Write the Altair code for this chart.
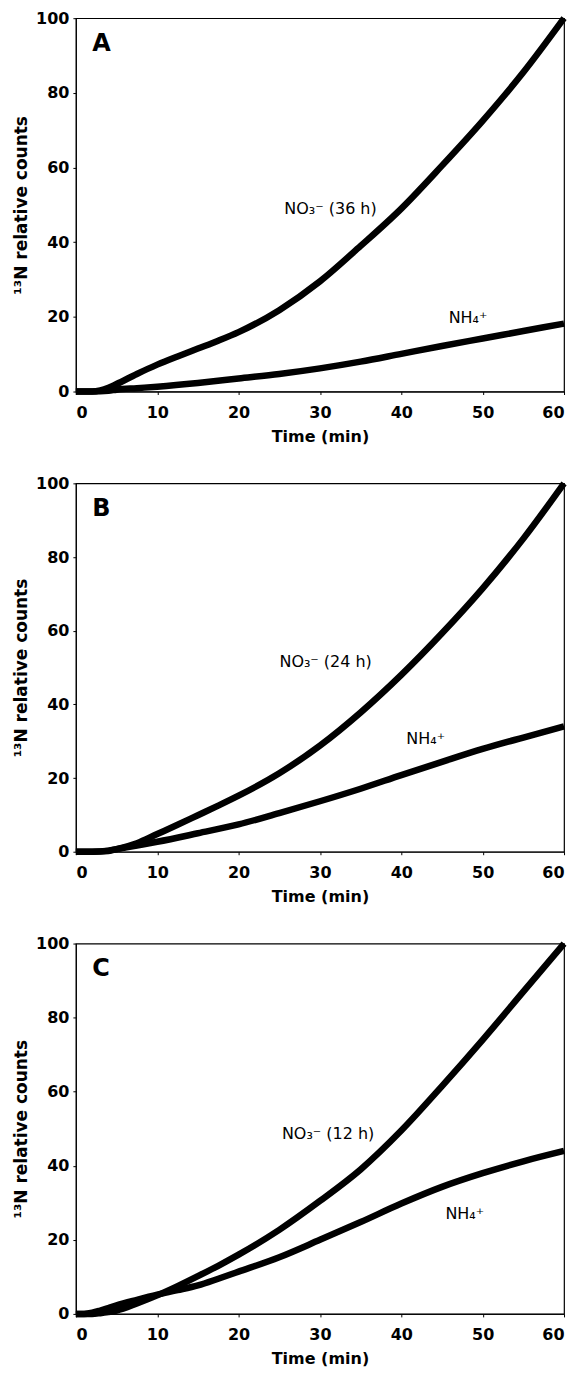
import altair as alt
import pandas as pd

# ---- data ----
t_A_no3 = [0, 1, 2, 3, 4, 5, 7.5, 10, 12.5, 15, 17.5, 20, 25, 30, 35, 40, 45, 50, 55, 60]
v_A_no3 = [0, 0, 0, 0.3, 1.0, 2.0, 4.7, 7.2, 9.4, 11.5, 13.6, 15.9, 21.8, 29.5, 39.0, 49.0, 60.5, 72.5, 85.5, 100]
t_A_nh4 = [0, 2, 4, 5, 7.5, 10, 15, 20, 25, 30, 35, 40, 45, 50, 55, 60]
v_A_nh4 = [0, 0, 0.2, 0.5, 0.9, 1.3, 2.3, 3.5, 4.7, 6.2, 8.0, 10.1, 12.2, 14.2, 16.2, 18.2]

t_B_no3 = [0, 2, 4, 5, 7.5, 10, 12.5, 15, 17.5, 20, 25, 30, 35, 40, 45, 50, 55, 60]
v_B_no3 = [0, 0, 0.2, 0.7, 2.3, 4.8, 7.3, 9.9, 12.5, 15.2, 21.3, 28.8, 37.8, 48.0, 59.3, 71.5, 85.0, 100]
t_B_nh4 = [0, 2, 4, 5, 7.5, 10, 15, 20, 25, 30, 35, 40, 45, 50, 55, 60]
v_B_nh4 = [0, 0, 0.3, 0.7, 1.7, 2.7, 5.0, 7.4, 10.5, 13.7, 17.1, 20.8, 24.4, 27.9, 31.0, 34.0]

t_C_no3 = [0, 1, 2, 3, 4, 5, 7.5, 10, 12.5, 15, 17.5, 20, 25, 30, 35, 40, 45, 50, 55, 60]
v_C_no3 = [0, 0, 0, 0.2, 0.5, 0.9, 2.8, 5.0, 7.5, 10.2, 13.0, 16.0, 22.7, 30.5, 39.0, 49.5, 61.5, 74.0, 87.0, 100]
t_C_nh4 = [0, 1, 2, 3, 4, 5, 7.5, 10, 12.5, 15, 17.5, 20, 25, 30, 35, 40, 45, 50, 55, 60]
v_C_nh4 = [0, 0, 0.3, 0.9, 1.6, 2.3, 3.8, 5.2, 6.4, 7.7, 9.5, 11.4, 15.3, 20.0, 24.8, 29.8, 34.3, 38.0, 41.2, 44.0]

panel_letters = ["A", "B", "C"]
no3_labels = ["NO\u2083\u207b (36 h)", "NO\u2083\u207b (24 h)", "NO\u2083\u207b (12 h)"]
nh4_label = "NH\u2084\u207a"
no3_label_pos = [(31.3, 49.0), (30.7, 51.6), (31.0, 48.5)]
nh4_label_pos = [(48.2, 19.7), (43.0, 30.5), (47.8, 27.0)]
letter_pos = (2.0, 93.0)

x_ticks = [0, 10, 20, 30, 40, 50, 60]
y_ticks = [0, 20, 40, 60, 80, 100]

series = {
    "A": [(t_A_no3, v_A_no3, "NO3"), (t_A_nh4, v_A_nh4, "NH4")],
    "B": [(t_B_no3, v_B_no3, "NO3"), (t_B_nh4, v_B_nh4, "NH4")],
    "C": [(t_C_no3, v_C_no3, "NO3"), (t_C_nh4, v_C_nh4, "NH4")],
}

FONT = "DejaVu Sans"
heights = [374, 369, 371]
PANEL_W = 489


def panel(i, letter):
    rows = []
    for t, v, s in series[letter]:
        for a, b in zip(t, v):
            rows.append({"t": a, "v": b, "s": s})
    df = pd.DataFrame(rows)
    xs = alt.Scale(domain=[0, 60], nice=False)
    ys = alt.Scale(domain=[0, 100], nice=False)
    xax = alt.Axis(values=x_ticks, title="Time (min)", grid=False)
    yax = alt.Axis(values=y_ticks, title="\u00b9\u00b3N relative counts", grid=False)
    lines = alt.Chart(df).mark_line(color="black", strokeWidth=6.5, interpolate="monotone").encode(
        x=alt.X("t:Q", scale=xs, axis=xax),
        y=alt.Y("v:Q", scale=ys, axis=yax),
        detail="s:N",
    )
    lab = pd.DataFrame([
        {"x": no3_label_pos[i][0], "y": no3_label_pos[i][1], "txt": no3_labels[i]},
        {"x": nh4_label_pos[i][0], "y": nh4_label_pos[i][1], "txt": nh4_label},
    ])
    labels = alt.Chart(lab).mark_text(font=FONT, fontSize=16, color="black", align="center", baseline="middle").encode(
        x=alt.X("x:Q", scale=xs), y=alt.Y("y:Q", scale=ys), text="txt:N"
    )
    let = pd.DataFrame([{"x": letter_pos[0], "y": letter_pos[1], "txt": letter}])
    letters = alt.Chart(let).mark_text(font=FONT, fontSize=24, fontWeight="bold", color="black",
                                       align="left", baseline="middle").encode(
        x=alt.X("x:Q", scale=xs), y=alt.Y("y:Q", scale=ys), text="txt:N"
    )
    return alt.layer(lines, labels, letters).properties(width=PANEL_W, height=heights[i])


chart = alt.vconcat(*[panel(i, l) for i, l in enumerate(panel_letters)], spacing=24).properties(
    padding={"top": -5, "left": 4, "right": 0, "bottom": 0}
).configure_view(stroke="black", strokeWidth=1.2).configure_axis(
    domainColor="black", tickColor="black", tickSize=3,
    labelFont=FONT, labelFontSize=16, labelFontWeight="bold", labelColor="black",
    titleFont=FONT, titleFontWeight="bold", titleColor="black",
).configure_axisX(labelPadding=10, titlePadding=8, titleFontSize=16
).configure_axisY(labelPadding=4, titlePadding=5, titleFontSize=17)

chart.save("out.html", embed_options={"renderer": "svg", "actions": False})
